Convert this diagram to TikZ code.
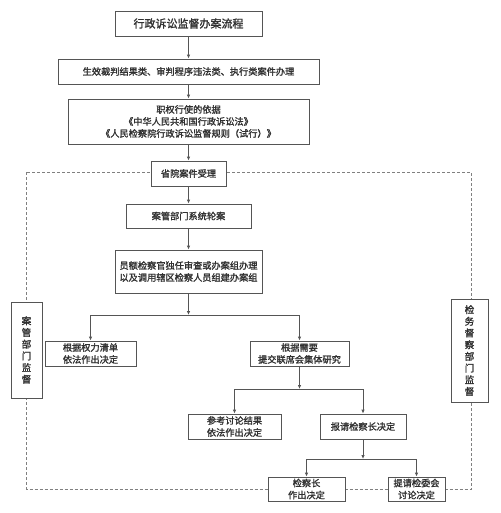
\documentclass[tikz,border=0pt]{standalone}
\usepackage{fontspec}
\newfontfamily\cjk[FakeBold=1.5]{Noto Sans CJK SC}
\usetikzlibrary{arrows.meta}
\definecolor{boxline}{HTML}{555555}
\definecolor{boxtext}{HTML}{303030}
\definecolor{dashline}{HTML}{808080}
\begin{document}
\begin{tikzpicture}[x=1pt, y=-1pt,
    every node/.style={inner sep=0pt, text=boxtext, font=\cjk\fontsize{9.2}{12}\selectfont},
    box/.style={draw=boxline, line width=0.8pt, fill=white, align=center, minimum height=25pt},
    vbox/.style={box, font=\cjk\fontsize{9.6}{11.7}\selectfont},
    arr/.style={draw=boxline, line width=0.8pt, -{Latex[length=4pt,width=3.5pt]}}]
  \useasboundingbox (0,0) rectangle (500,513);
  % supervision frame
  \draw [dashline, line width=0.8pt, dash pattern=on 3pt off 2pt] (26.5,172) rectangle (471,489);
  \node [box, minimum width=147pt, font=\cjk\fontsize{11}{13}\selectfont] (title) at (188.5,23.5) {行政诉讼监督办案流程};
  \node [box, minimum width=261pt] (cases) at (188.5,71.5) {生效裁判结果类、审判程序违法类、执行类案件办理};
  \node [box, minimum width=241pt, minimum height=45pt] (basis) at (188.5,121.5) {职权行使的依据\\《中华人民共和国行政诉讼法》\\《人民检察院行政诉讼监督规则（试行）》};
  \node [box, minimum width=75pt] (accept) at (188.5,173.5) {省院案件受理};
  \node [box, minimum width=125pt, minimum height=24pt] (assign) at (188.5,216) {案管部门系统轮案};
  \node [box, minimum width=147pt, minimum height=43pt] (handle) at (188.5,271.5) {员额检察官独任审查或办案组办理\\以及调用辖区检察人员组建办案组};
  \node [box, minimum width=91pt] (listdec) at (90.5,353.5) {根据权力清单\\依法作出决定};
  \node [box, minimum width=99pt] (joint) at (299.5,353.5) {根据需要\\提交联席会集体研究};
  \node [box, minimum width=93pt] (refer) at (234.5,426.5) {参考讨论结果\\依法作出决定};
  \node [box, minimum width=86pt] (report) at (363,426.5) {报请检察长决定};
  \node [box, minimum width=77pt, minimum height=24pt] (chief) at (306.5,489) {检察长\\作出决定};
  \node [box, minimum width=57pt, minimum height=24pt] (committee) at (416.5,489) {提请检委会\\讨论决定};
  \node [vbox, minimum width=31pt, minimum height=96pt] (casesup) at (26.5,350) {案\\管\\部\\门\\监\\督};
  \node [vbox, minimum width=37pt, minimum height=103pt] (inspsup) at (469.5,350.5) {检\\务\\督\\察\\部\\门\\监\\督};
  % branch points
  \coordinate (j1) at (188.5,315);
  \coordinate (j2) at (299.5,389);
  \coordinate (j3) at (363,459);
  \draw [arr] (title) -- (cases);
  \draw [arr] (cases) -- (basis);
  \draw [arr] (basis) -- (accept);
  \draw [arr] (accept) -- (assign);
  \draw [arr] (assign) -- (handle);
  \draw [arr] (handle) -- (j1);
  \draw [arr] (j1) -| (listdec);
  \draw [arr] (j1) -| (joint);
  \draw [arr] (joint) -- (j2);
  \draw [arr] (j2) -| (refer);
  \draw [arr] (j2) -| (report);
  \draw [arr] (report) -- (j3);
  \draw [arr] (j3) -| (chief);
  \draw [arr] (j3) -| (committee);
\end{tikzpicture}
\end{document}
